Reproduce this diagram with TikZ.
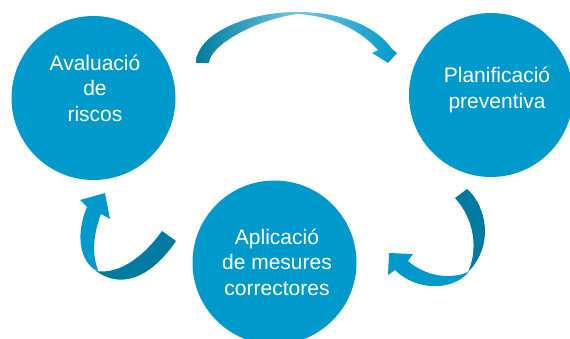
\documentclass[tikz,border=0pt]{standalone}
\usepackage{fontspec}
\setmainfont{Liberation Sans}
\usetikzlibrary{positioning}
\definecolor{cicle}{RGB}{0,153,203}
\definecolor{fosc}{RGB}{0,122,160}
\tikzset{
    bubble/.style={circle, fill=cicle, minimum size=164pt, inner sep=0pt},
    bubtxt/.style={text=white, align=center, inner sep=0pt,
        font=\fontsize{21}{25.5}\selectfont},
    llum/.style={fill=cicle},
    ombra/.style={fill=fosc}
}
\begin{document}
\begin{tikzpicture}[x=1pt, y=-1pt]
    \clip (0, 0) rectangle (570, 339);
    % cercles
    \node[bubble] (aval) at (93.5, 98) {};
    \node[bubble] (plan) at (491, 95) {};
    \node[bubble] (apli) at (274.5, 262.5) {};
    \node[bubtxt] (avaltxt) at (95, 88) {Avaluació\\de\\riscos};
    \node[bubtxt] (plantxt) at (497, 90) {Planificació\\preventiva};
    \node[bubtxt] (aplitxt) at (277, 262) {Aplicació\\de mesures\\correctores};
    % fletxa de dalt
    \shade[left color=fosc, right color=cicle!55!white]
        (196, 63) .. controls (196, 35) and (245, 12) .. (297, 12)
        -- (297, 14) .. controls (255, 20) and (210, 45) .. (209, 63) -- cycle;
    \shade[left color=cicle!55!white, right color=cicle]
        (297, 12) .. controls (340, 12) and (375, 25) .. (392, 49)
        -- (397, 53) -- (388, 63) -- (372, 53) -- (378, 50)
        .. controls (362, 32) and (335, 16) .. (297, 14) -- cycle;
    % fletxa de la dreta
    \fill[ombra] (455, 198) -- (467, 189) .. controls (486, 205) and (495, 245) .. (468, 272)
        .. controls (478, 250) and (475, 220) .. (455, 198) -- cycle;
    \fill[llum] (468, 272) .. controls (450, 280) and (425, 276) .. (408, 261)
        -- (413, 254) -- (389, 253) -- (388, 275) -- (395, 270)
        .. controls (415, 290) and (450, 292) .. (468, 273) -- cycle;
    % fletxa de l'esquerra
    \fill[ombra] (96, 271) .. controls (120, 275) and (145, 255) .. (162, 231)
        -- (176, 241) .. controls (155, 272) and (125, 292) .. (96, 271) -- cycle;
    \fill[llum] (97, 271) .. controls (80, 262) and (75, 235) .. (87, 207)
        -- (80, 200) -- (105, 193) -- (110, 219) -- (101, 214)
        .. controls (93, 235) and (92, 255) .. (98, 270) -- cycle;
\end{tikzpicture}
\end{document}
